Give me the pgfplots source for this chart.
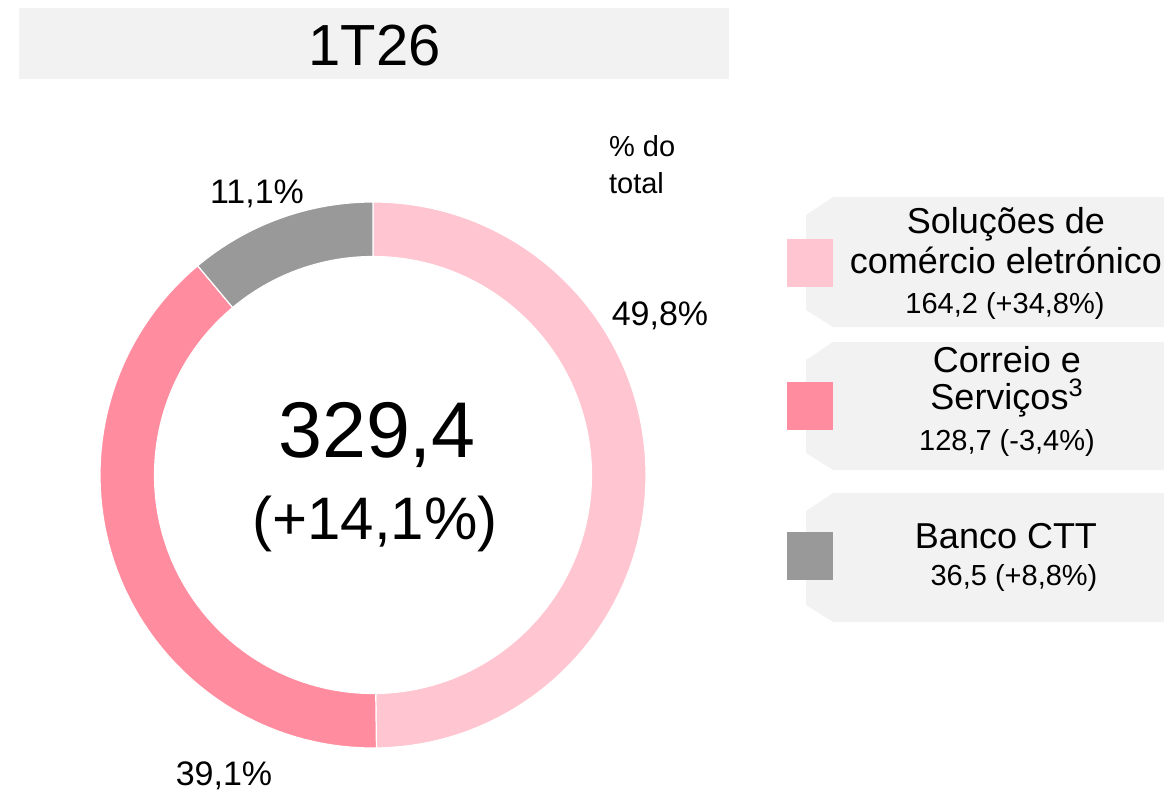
\documentclass[border=0pt]{standalone}
\usepackage{fontspec}
\setmainfont{Liberation Sans}
\usepackage{pgfplots}
\usepackage{pgfplotstable}
\pgfplotsset{compat=1.18}
\usetikzlibrary{calc}

\definecolor{segA}{HTML}{FFC5D0}
\definecolor{segB}{HTML}{FF8C9F}
\definecolor{segC}{HTML}{999999}
\definecolor{boxgray}{HTML}{F2F2F2}

% share of total, %
\pgfplotstableread{
share
49.8
39.1
11.1
}\sharetable

% one ring segment: colour, start angle, end angle (1px = 0.5pt)
\newcommand{\ringseg}[3]{%
  \fill[#1,draw=white,line width=0.6pt]
    ($(axis cs:373,475)+(#2:136.5pt)$) arc[start angle=#2,end angle=#3,radius=136.5pt]
    -- ($(axis cs:373,475)+(#3:109.25pt)$) arc[start angle=#3,end angle=#2,radius=109.25pt]
    -- cycle;}
\newcommand{\legbox}[2]{% top, bottom
  \fill[boxgray] (axis cs:833,#1) -- (axis cs:1164,#1) -- (axis cs:1164,#2)
    -- (axis cs:833,#2) -- (axis cs:806,#2-17) -- (axis cs:806,#1+18) -- cycle;}
\newcommand{\fs}[1]{\fontsize{#1}{#1}\selectfont}

\begin{document}
\begin{tikzpicture}
\useasboundingbox (0,0) rectangle (582pt,396.5pt);
\pgfplotstablegetelem{0}{share}\of\sharetable \pgfmathsetmacro\aA{90-3.6*\pgfplotsretval}
\pgfplotstablegetelem{1}{share}\of\sharetable \pgfmathsetmacro\aB{\aA-3.6*\pgfplotsretval}
\pgfplotstablegetelem{2}{share}\of\sharetable \pgfmathsetmacro\aC{\aB-3.6*\pgfplotsretval}
\begin{axis}[
  width=582pt, height=396.5pt, scale only axis,
  xmin=0, xmax=1164, ymin=0, ymax=793, y dir=reverse,
  hide axis, clip=false,
]
% title
\fill[boxgray] (axis cs:19,8) rectangle (axis cs:729,79);
\node[anchor=base,font=\fs{29}] at (axis cs:374.5,65) {1T26};

% donut
\ringseg{segA}{90}{\aA}
\ringseg{segB}{\aA}{\aB}
\ringseg{segC}{\aB}{\aC}

\node[anchor=base,font=\fs{39.5}] at (axis cs:377,457) {329,4};
\node[anchor=base,font=\fs{30}] at (axis cs:375,539) {(+14,1\%)};

\node[anchor=base,font=\fs{17}] at (axis cs:257,203) {11,1\%};
\node[anchor=base,font=\fs{17}] at (axis cs:660,325) {49,8\%};
\node[anchor=base,font=\fs{17}] at (axis cs:224,785) {39,1\%};
\node[anchor=base west,font=\fs{14.5}] at (axis cs:602,156) {\% do};
\node[anchor=base west,font=\fs{14.5}] at (axis cs:602,193) {total};

% legend
\legbox{197}{327}
\legbox{342}{470}
\legbox{493}{622}
\fill[segA] (axis cs:787,239) rectangle (axis cs:833,287);
\fill[segB] (axis cs:787,382) rectangle (axis cs:833,430);
\fill[segC] (axis cs:787,532) rectangle (axis cs:833,580);

\node[anchor=base,font=\fs{18}] at (axis cs:1006,233) {Soluções de};
\node[anchor=base,font=\fs{18}] at (axis cs:1006,273) {comércio eletrónico};
\node[anchor=base,font=\fs{14.5}] at (axis cs:1005,313) {164,2 (+34,8\%)};

\node[anchor=base,font=\fs{18}] at (axis cs:1007,372) {Correio e};
\node[anchor=base,font=\fs{18}] at (axis cs:1007,409) {Serviços\textsuperscript{3}};
\node[anchor=base,font=\fs{14.5}] at (axis cs:1007,450) {128,7 (-3,4\%)};

\node[anchor=base,font=\fs{18}] at (axis cs:1006,548) {Banco CTT};
\node[anchor=base,font=\fs{14.5}] at (axis cs:1014,585) {36,5 (+8,8\%)};
\end{axis}
\end{tikzpicture}
\end{document}
